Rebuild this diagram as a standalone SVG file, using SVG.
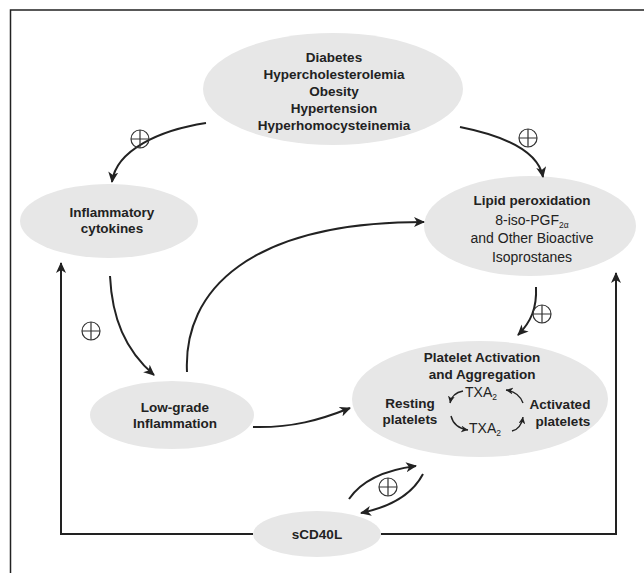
<svg xmlns="http://www.w3.org/2000/svg" width="644" height="573" viewBox="0 0 644 573">
<style>
.node{fill:#e7e7e7;stroke:none}
.t{font-family:"Liberation Sans",Arial,sans-serif;font-size:13.5px;fill:#222;text-anchor:middle}
.b{font-weight:bold}
.r{font-size:14px}
.c{fill:none;stroke:#222;stroke-width:2}
.cs{fill:none;stroke:#222;stroke-width:1.4}
.plus circle{fill:none;stroke:#333;stroke-width:1.2}
.plus path{stroke:#333;stroke-width:1.2}
.sub{font-size:8.5px}
</style>
<defs>
<marker id="ah" markerWidth="12" markerHeight="10" refX="10" refY="5" orient="auto" markerUnits="userSpaceOnUse">
<path d="M0,0 L11,5 L0,10 L3,5 z" fill="#222"/>
</marker>
<marker id="ahs" markerWidth="8" markerHeight="7" refX="7" refY="3.5" orient="auto" markerUnits="userSpaceOnUse">
<path d="M0,0 L7,3.5 L0,7 L2,3.5 z" fill="#222"/>
</marker>
</defs>
<rect width="644" height="573" fill="#fff"/>
<path d="M10.5,573 V10 H644" fill="none" stroke="#222" stroke-width="1.5"/>

<g id="risk">
<ellipse class="node" cx="333" cy="89" rx="130" ry="56"/>
<text class="t b" x="334" y="62">Diabetes</text>
<text class="t b" x="334" y="79">Hypercholesterolemia</text>
<text class="t b" x="334" y="96">Obesity</text>
<text class="t b" x="334" y="113">Hypertension</text>
<text class="t b" x="334" y="130">Hyperhomocysteinemia</text>
</g>

<g id="cytokines">
<ellipse class="node" cx="109" cy="221" rx="89" ry="37"/>
<text class="t b" x="112" y="217">Inflammatory</text>
<text class="t b" x="112" y="233">cytokines</text>
</g>

<g id="lipid">
<ellipse class="node" cx="530" cy="226" rx="106" ry="50"/>
<text class="t b" x="532" y="205">Lipid peroxidation</text>
<text class="t r" x="532" y="225">8-iso-PGF<tspan class="sub" dy="3">2α</tspan></text>
<text class="t r" x="532" y="243">and Other Bioactive</text>
<text class="t r" x="532" y="262">Isoprostanes</text>
</g>

<g id="lowgrade">
<ellipse class="node" cx="172" cy="415" rx="82" ry="34"/>
<text class="t b" x="175" y="412">Low-grade</text>
<text class="t b" x="175" y="428">Inflammation</text>
</g>

<g id="platelet">
<ellipse class="node" cx="480" cy="399" rx="128" ry="58"/>
<text class="t b" x="482" y="362">Platelet Activation</text>
<text class="t b" x="482" y="379">and Aggregation</text>
<text class="t b" x="410" y="408">Resting</text>
<text class="t b" x="410" y="424">platelets</text>
<text class="t b" x="560" y="409">Activated</text>
<text class="t b" x="563" y="426">platelets</text>
<text class="t r" x="481" y="397">TXA<tspan class="sub" dy="3">2</tspan></text>
<text class="t r" x="485" y="433">TXA<tspan class="sub" dy="3">2</tspan></text>
<path class="cs" d="M463,391 Q452,393 450,403" marker-end="url(#ahs)"/>
<path class="cs" d="M523,403 Q519,392 506,390" marker-end="url(#ahs)"/>
<path class="cs" d="M451,416 Q454,428 468,430" marker-end="url(#ahs)"/>
<path class="cs" d="M512,431 Q521,429 523,417" marker-end="url(#ahs)"/>
</g>

<g id="scd40l">
<ellipse class="node" cx="317" cy="534" rx="64" ry="23"/>
<text class="t b" x="317" y="539">sCD40L</text>
</g>

<g id="connectors">
<path class="c" d="M206,123 C160,130 116,150 112,182" marker-end="url(#ah)"/>
<path class="c" d="M460,127 C500,135 538,150 543,177" marker-end="url(#ah)"/>
<path class="c" d="M110,276 C112,318 125,350 154,375" marker-end="url(#ah)"/>
<path class="c" d="M187,372 C183,290 250,222 424,222" marker-end="url(#ah)"/>
<path class="c" d="M253,427 C292,428 320,420 350,408" marker-end="url(#ah)"/>
<path class="c" d="M536,287 C537,308 531,322 518,335" marker-end="url(#ah)"/>
<path class="c" d="M253,534 H61 V263" marker-end="url(#ah)"/>
<path class="c" d="M381,534 H616 V273" marker-end="url(#ah)"/>
<path class="c" d="M349,499 C362,480 385,470 416,466" marker-end="url(#ah)"/>
<path class="c" d="M423,474 C412,495 390,507 361,513" marker-end="url(#ah)"/>
</g>

<g class="plus">
<g transform="translate(140,139)"><circle r="9"/><path d="M-9,0 H9 M0,-9 V9"/></g>
<g transform="translate(528,138)"><circle r="9"/><path d="M-9,0 H9 M0,-9 V9"/></g>
<g transform="translate(91,331)"><circle r="9"/><path d="M-9,0 H9 M0,-9 V9"/></g>
<g transform="translate(542,314)"><circle r="9"/><path d="M-9,0 H9 M0,-9 V9"/></g>
<g transform="translate(388,487)"><circle r="9"/><path d="M-9,0 H9 M0,-9 V9"/></g>
</g>
</svg>
